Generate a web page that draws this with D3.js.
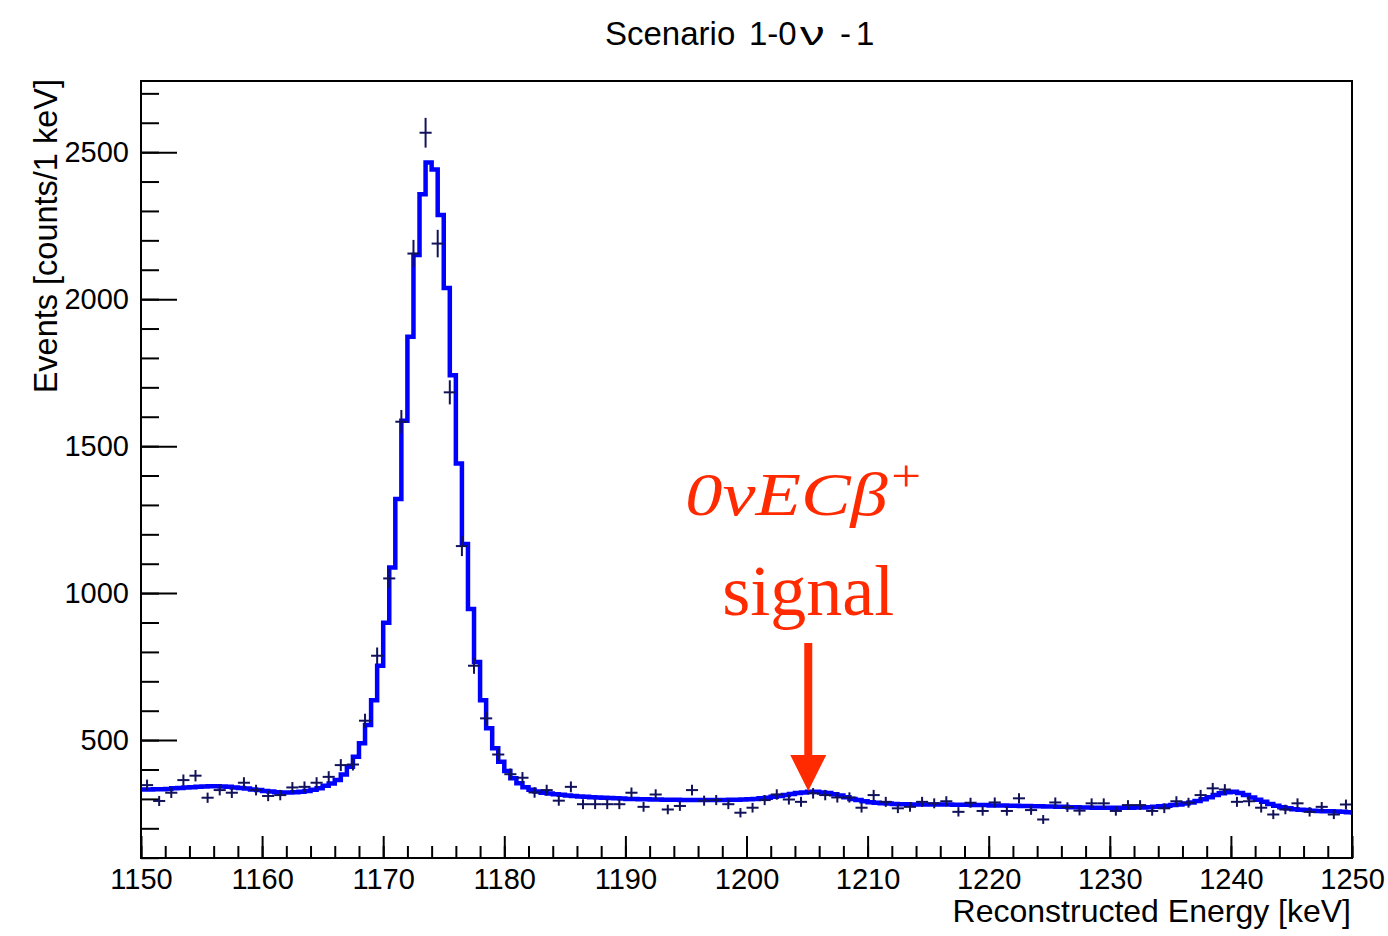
<!DOCTYPE html>
<html>
<head>
<meta charset="utf-8">
<script src="https://cdn.jsdelivr.net/npm/d3@7"></script>
<style>
    body { margin: 0; background: #fff; }
    svg text { font-family: "Liberation Sans", Arial, Helvetica, sans-serif; }
</style>
</head>
<body>
<div id="chart"></div>
<script>
// Scenario 1-0nu-1 : reconstructed energy spectrum with fitted model
const titleParts = ['Scenario', '1-0', 'ν', '-', '1'];
const xTitle = 'Reconstructed Energy [keV]';
const yTitle = 'Events [counts/1 keV]';

const xMajorTicks = [1150, 1160, 1170, 1180, 1190, 1200, 1210, 1220, 1230, 1240, 1250];
const yMajorTicks = [500, 1000, 1500, 2000, 2500];

// model histogram, 0.5 keV bins starting at 1150 keV
const modelStart = 1150;
const modelBinWidth = 0.5;
const modelValues = [
    332, 332, 333, 333, 334, 336, 337, 339, 340, 341,
    342, 343, 343, 342, 341, 339, 337, 335, 332, 330,
    327, 325, 323, 322, 322, 323, 324, 327, 331, 336,
    345, 352, 364, 383, 409, 443, 489, 551, 636, 753,
    899, 1087, 1320, 1586, 1872, 2150, 2357, 2465, 2441, 2286,
    2038, 1741, 1441, 1167, 946, 766, 636, 540, 472, 426,
    395, 370, 353, 340, 331, 325, 321, 318, 316, 314,
    312, 310, 308, 307, 306, 305, 304, 303, 302, 301,
    300, 300, 299, 299, 298, 298, 297, 297, 297, 296,
    296, 296, 296, 296, 296, 296, 296, 297, 297, 298,
    299, 300, 302, 304, 307, 310, 313, 317, 320, 322,
    324, 324, 322, 320, 316, 312, 306, 300, 296, 292,
    289, 287, 285, 284, 283, 282, 282, 281, 281, 281,
    281, 281, 281, 281, 280, 280, 280, 279, 279, 279,
    278, 278, 278, 277, 277, 276, 276, 275, 275, 274,
    274, 273, 273, 272, 272, 271, 271, 270, 270, 270,
    270, 270, 270, 270, 271, 271, 272, 273, 275, 277,
    279, 281, 284, 288, 293, 299, 306, 313, 319, 323,
    324, 320, 313, 305, 297, 290, 283, 277, 272, 268,
    265, 263, 262, 260, 259, 258, 258, 257, 256, 255, 254
];

// measured counts, 1 keV bins starting at 1150 keV
const dataStart = 1150;
const dataBinWidth = 1;
const dataValues = [
    347, 293, 321, 364, 379, 304, 330, 321, 355, 330,
    310, 313, 339, 341, 355, 375, 415, 417, 566, 787,
    1050, 1583, 2155, 2566, 2189, 1683, 1160, 753, 574, 451,
    384, 372, 322, 330, 294, 341, 282, 282, 282, 282,
    321, 273, 315, 264, 276, 330, 294, 296, 282, 253,
    270, 296, 315, 298, 290, 319, 313, 305, 305, 270,
    313, 290, 268, 273, 290, 285, 292, 256, 287, 259,
    288, 259, 302, 262, 230, 288, 272, 260, 285, 285,
    259, 279, 279, 259, 268, 292, 287, 313, 336, 332,
    290, 292, 270, 247, 264, 285, 256, 273, 247, 281
];

// annotation: arrow pointing at the signal bump
const arrowEnergy = 1205.1;
const arrowTopValue = 830;
const arrowTipValue = 327;
const signalLine1 = '0νECβ';
const signalSup = '+';
const signalLine2 = 'signal';

const width = 1388, height = 936;
const frame = { left: 141, right: 1352, top: 81, bottom: 858 };
const red = '#ff2a00';
const serif = '"Liberation Serif", "Times New Roman", serif';

const svg = d3.select('#chart').append('svg')
    .attr('width', width)
    .attr('height', height);

svg.append('rect')
    .attr('width', width)
    .attr('height', height)
    .style('fill', '#fff');

const xScale = d3.scaleLinear()
    .domain([1150, 1250])
    .range([frame.left, frame.right]);

const yScale = d3.scaleLinear()
    .domain([99, 2742])
    .range([frame.bottom, frame.top]);

svg.append('clipPath')
    .attr('id', 'plotClip')
    .append('rect')
    .attr('x', frame.left)
    .attr('y', frame.top)
    .attr('width', frame.right - frame.left)
    .attr('height', frame.bottom - frame.top);

// minor ticks
svg.append('g')
    .attr('class', 'axis')
    .attr('transform', `translate(0,${frame.bottom})`)
    .call(d3.axisBottom(xScale)
        .tickValues(d3.range(1150, 1251, 2))
        .tickSize(-12)
        .tickFormat(''));

svg.append('g')
    .attr('class', 'axis')
    .attr('transform', `translate(${frame.left},0)`)
    .call(d3.axisLeft(yScale)
        .tickValues(d3.range(100, 2701, 100))
        .tickSize(-18)
        .tickFormat(''));

// major ticks with labels
svg.append('g')
    .attr('class', 'axis')
    .attr('transform', `translate(0,${frame.bottom})`)
    .call(d3.axisBottom(xScale)
        .tickValues(xMajorTicks)
        .tickSize(-22)
        .tickPadding(10)
        .tickFormat(d3.format('d')))
    .selectAll('text')
    .style('font-size', '29px');

svg.append('g')
    .attr('class', 'axis')
    .attr('transform', `translate(${frame.left},0)`)
    .call(d3.axisLeft(yScale)
        .tickValues(yMajorTicks)
        .tickSize(-36)
        .tickPadding(12)
        .tickFormat(d3.format('d')))
    .selectAll('text')
    .style('font-size', '29px');

svg.selectAll('.axis .domain').remove();
svg.selectAll('.axis line')
    .style('stroke', '#000')
    .style('stroke-width', 2);
svg.selectAll('.axis text')
    .style('fill', '#000');

// model histogram
const stepLine = d3.line()
    .x(d => xScale(d[0]))
    .y(d => yScale(d[1]))
    .curve(d3.curveStepAfter);

const modelPoints = modelValues.map((v, i) => [modelStart + i * modelBinWidth, v]);
modelPoints.push([modelStart + modelValues.length * modelBinWidth, modelValues[modelValues.length - 1]]);

const plot = svg.append('g').attr('clip-path', 'url(#plotClip)');

plot.append('path')
    .datum(modelPoints)
    .attr('d', stepLine)
    .style('fill', 'none')
    .style('stroke', '#0000ff')
    .style('stroke-width', 4.5)
    .style('stroke-linejoin', 'miter');

// data points with error bars
const dataPoints = dataValues.map((v, i) => ({
    x: dataStart + (i + 0.5) * dataBinWidth,
    value: v
}));

const crosses = plot.selectAll('.cross')
    .data(dataPoints)
    .enter().append('g')
    .attr('class', 'cross')
    .style('stroke', '#12125a')
    .style('stroke-width', 2);

crosses.append('line')
    .attr('x1', d => xScale(d.x))
    .attr('x2', d => xScale(d.x))
    .attr('y1', d => yScale(d.value - Math.sqrt(d.value)))
    .attr('y2', d => yScale(d.value + Math.sqrt(d.value)));

crosses.append('line')
    .attr('x1', d => xScale(d.x - dataBinWidth / 2))
    .attr('x2', d => xScale(d.x + dataBinWidth / 2))
    .attr('y1', d => yScale(d.value))
    .attr('y2', d => yScale(d.value));

// frame
svg.append('rect')
    .attr('x', frame.left)
    .attr('y', frame.top)
    .attr('width', frame.right - frame.left)
    .attr('height', frame.bottom - frame.top)
    .style('fill', 'none')
    .style('stroke', '#000')
    .style('stroke-width', 2);

// title (the nu is drawn wider, as in the original)
const titleX = [605, 749, 800, 840, 856];
titleParts.forEach((part, i) => {
    svg.append('text')
        .attr('transform', i === 2
            ? `translate(${titleX[i]},45) scale(1.5,1)`
            : `translate(${titleX[i]},45)`)
        .style('font-size', '33px')
        .style('fill', '#000')
        .text(part);
});

// axis titles
svg.append('text')
    .attr('x', frame.right - 1)
    .attr('y', 922)
    .style('text-anchor', 'end')
    .style('font-size', '32px')
    .style('fill', '#000')
    .text(xTitle);

svg.append('text')
    .attr('transform', 'translate(57,79) rotate(-90)')
    .style('text-anchor', 'end')
    .style('font-size', '32.5px')
    .style('fill', '#000')
    .text(yTitle);

// arrow
const ax = xScale(arrowEnergy);
const tipY = yScale(arrowTipValue);
const headH = 36, headW = 36;

svg.append('line')
    .attr('x1', ax)
    .attr('x2', ax)
    .attr('y1', yScale(arrowTopValue))
    .attr('y2', tipY - headH + 2)
    .style('stroke', red)
    .style('stroke-width', 8);

svg.append('path')
    .attr('d', `M${ax - headW / 2},${tipY - headH} L${ax + headW / 2},${tipY - headH} L${ax},${tipY} Z`)
    .style('fill', red);

// annotation text, stretched a little to match the wide math font
const label1 = svg.append('text')
    .attr('transform', `translate(${ax - 123},515) scale(1.2,1)`)
    .style('font-family', serif)
    .style('font-size', '62px')
    .style('fill', red);
label1.append('tspan')
    .style('font-style', 'italic')
    .text(signalLine1);
label1.append('tspan')
    .attr('dx', 3)
    .attr('dy', -24)
    .style('font-size', '44px')
    .text(signalSup);

svg.append('text')
    .attr('x', ax)
    .attr('y', 615)
    .style('text-anchor', 'middle')
    .style('font-family', serif)
    .style('font-size', '72px')
    .style('fill', red)
    .text(signalLine2);
</script>
</body>
</html>
